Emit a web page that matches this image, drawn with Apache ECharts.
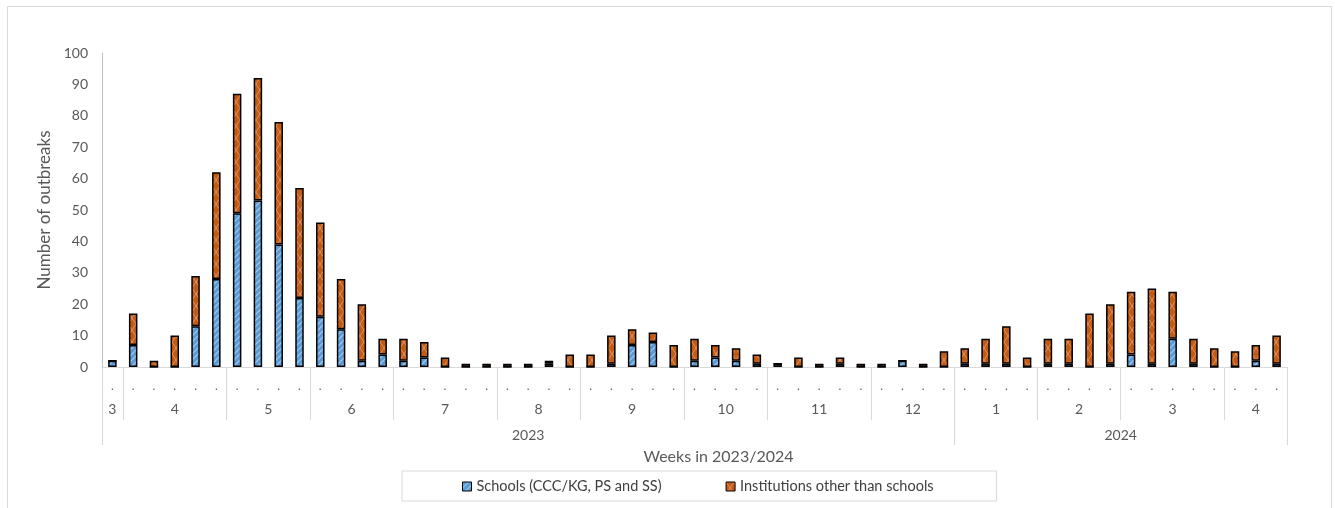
<!DOCTYPE html>
<html>
<head>
<meta charset="utf-8">
<script src="https://cdn.jsdelivr.net/npm/echarts@6/dist/echarts.min.js"></script>
<style>
  html, body { margin: 0; padding: 0; background: #fff; }
  #wrap { position: relative; width: 1335px; height: 508px; overflow: hidden; }
  #chart { width: 1335px; height: 508px; }
  #frame { position: absolute; left: 7px; top: 6px; width: 1325px; height: 520px; border: 1px solid #d9d9d9; pointer-events: none; box-sizing: border-box; }
</style>
</head>
<body>
<div id="wrap"><div id="chart"></div><div id="frame"></div></div>
<script>
// ---- data ----
const weekLabels = Array(57).fill('.');
const schools = [2,7,0,0,13,28,49,53,39,22,16,12,2,4,2,3,0,0,0,0,0,1,0,0,1,7,8,0,2,3,2,1,1,0,0,1,0,0,2,0,0,1,1,1,0,1,1,0,1,4,1,9,1,0,0,2,1];
const others  = [0,10,2,10,16,34,38,39,39,35,30,16,18,5,7,5,3,1,1,1,1,1,4,4,9,5,3,7,7,4,4,3,0,3,1,2,1,1,0,1,5,5,8,12,3,8,8,17,19,20,24,15,8,6,5,5,9];
const monthNames = ['3','4','5','6','7','8','9','10','11','12','1','2','3','4'];
const monthWeeks = [1,5,4,4,5,4,5,4,5,4,4,4,5,3];
const yearNames = ['2023','2024'];
const yearWeeks = [41,16];
const yTicks = [0,10,20,30,40,50,60,70,80,90,100];

// ---- helpers ----
const nWeeks = weekLabels.length;
function halfData(names, counts) {
  const arr = Array(nWeeks * 2 + 1).fill('');
  let s = 0;
  names.forEach((nm, i) => { arr[2 * s + counts[i]] = nm; s += counts[i]; });
  return arr;
}
function boundaries(counts) {
  const set = new Set([0]);
  let s = 0;
  counts.forEach(c => { s += c; set.add(2 * s); });
  return set;
}
function makePattern(kind) {
  const c = document.createElement('canvas');
  if (kind === 'blue') {
    c.width = 6; c.height = 6;
    const g = c.getContext('2d');
    g.fillStyle = '#5B9BD5'; g.fillRect(0, 0, 6, 6);
    g.strokeStyle = '#A7CBEE'; g.lineWidth = 1.1;
    g.beginPath();
    g.moveTo(-1, 7); g.lineTo(7, -1);
    g.moveTo(-4, 4); g.lineTo(4, -4);
    g.moveTo(2, 10); g.lineTo(10, 2);
    g.stroke();
  } else {
    c.width = 8; c.height = 12;
    const g = c.getContext('2d');
    g.fillStyle = '#C55A11'; g.fillRect(0, 0, 8, 12);
    g.strokeStyle = '#DD9366'; g.lineWidth = 1;
    g.beginPath();
    g.moveTo(0, 0); g.lineTo(8, 12);
    g.moveTo(8, 0); g.lineTo(0, 12);
    g.stroke();
  }
  return { image: c, repeat: 'repeat' };
}

const monthB = boundaries(monthWeeks);
const yearB = boundaries(yearWeeks);
const FONT = 'Lato';

const chart = echarts.init(document.getElementById('chart'), null, { renderer: 'canvas' });
chart.setOption({
  animation: false,
  textStyle: { fontFamily: FONT },
  grid: { left: 102, right: 48, top: 53, bottom: 141 },
  legend: {
    left: 402, top: 471,
    padding: [8, 63, 7, 60],
    itemGap: 64,
    itemWidth: 9, itemHeight: 9,
    icon: 'rect',
    borderColor: '#d9d9d9', borderWidth: 1,
    itemStyle: { borderColor: '#000', borderWidth: 1 },
    textStyle: { fontFamily: FONT, fontSize: 14.5, color: '#404040' },
    data: ['Schools (CCC/KG, PS and SS)', 'Institutions other than schools']
  },
  xAxis: [
    {
      type: 'category', data: weekLabels, position: 'bottom', offset: 0,
      boundaryGap: true,
      axisLine: { show: true, lineStyle: { color: '#d9d9d9', width: 1 } },
      axisTick: { show: false },
      axisLabel: { interval: 0, margin: 13, color: '#595959', fontSize: 12, fontFamily: FONT }
    },
    {
      type: 'category', data: halfData(monthNames, monthWeeks), position: 'bottom', offset: 0,
      boundaryGap: false,
      axisLine: { show: false },
      axisTick: { show: true, length: 53, interval: (i) => monthB.has(i), lineStyle: { color: '#d9d9d9', width: 1 } },
      axisLabel: { interval: 0, margin: 35, color: '#595959', fontSize: 14, fontFamily: FONT }
    },
    {
      type: 'category', data: halfData(yearNames, yearWeeks), position: 'bottom', offset: 0,
      boundaryGap: false,
      axisLine: { show: false },
      axisTick: { show: true, length: 78, interval: (i) => yearB.has(i), lineStyle: { color: '#d9d9d9', width: 1 } },
      axisLabel: { interval: 0, margin: 61, color: '#595959', fontSize: 14, fontFamily: FONT },
      name: 'Weeks in 2023/2024', nameLocation: 'middle', nameGap: 82,
      nameTextStyle: { color: '#595959', fontSize: 16, fontFamily: FONT, padding: [0, 0, 0, 48] }
    }
  ],
  yAxis: {
    type: 'value', min: yTicks[0], max: yTicks[yTicks.length - 1], interval: 10,
    axisLine: { show: true, lineStyle: { color: '#bfbfbf', width: 1 } },
    axisTick: { show: false },
    splitLine: { show: false },
    axisLabel: { margin: 14, color: '#595959', fontSize: 14, fontFamily: FONT },
    name: 'Number of outbreaks', nameLocation: 'middle', nameGap: 46, nameRotate: 90,
    nameTextStyle: { color: '#595959', fontSize: 17, fontFamily: FONT }
  },
  series: [
    {
      name: 'Schools (CCC/KG, PS and SS)', type: 'bar', stack: 'all', xAxisIndex: 0,
      barWidth: 8.5, data: schools,
      itemStyle: { color: makePattern('blue'), borderColor: '#000', borderWidth: 1.5 }
    },
    {
      name: 'Institutions other than schools', type: 'bar', stack: 'all', xAxisIndex: 0,
      barWidth: 8.5, data: others,
      itemStyle: { color: makePattern('orange'), borderColor: '#000', borderWidth: 1.5 }
    }
  ]
});
</script>
</body>
</html>
